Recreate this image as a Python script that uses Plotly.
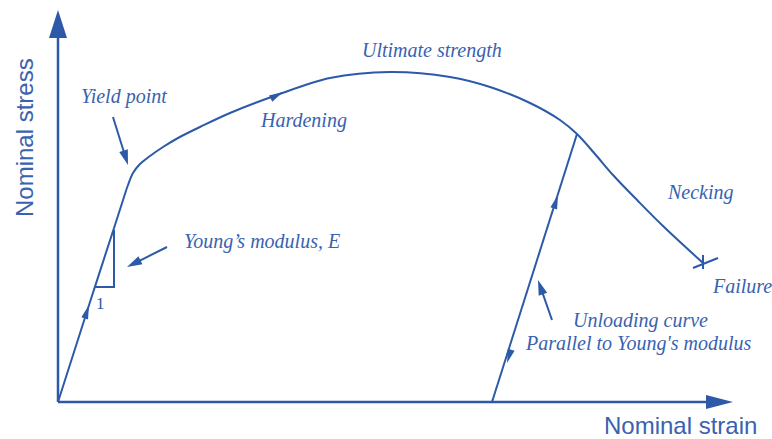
import numpy as np
import plotly.graph_objects as go

BLUE = "#2d5aa8"
TXT = "#3962b0"

# Main stress-strain curve (schematic units: strain, stress)
curve_strain = [0, 32, 57, 66, 70, 75, 82, 92, 105, 120, 142, 172, 219, 272, 332, 392, 432, 472, 502, 519, 537, 555, 580, 605, 645]
curve_stress = [0, 100, 177, 205, 217, 229, 238, 246, 255, 264, 275, 289, 307, 324, 330, 325, 315, 299, 282, 268, 248, 227, 201, 176, 139]

# Unloading line
unload_strain = [519, 434]
unload_stress = [268, 0]

# Young's modulus triangle
tri_strain = [37, 56, 56]
tri_stress = [115, 115, 172]

# Failure cross
fail_v_strain = [645, 645]
fail_v_stress = [147, 133]
fail_h_strain = [635, 660]
fail_h_stress = [134, 144]

# Axes extents
axis_x_end = 675
axis_y_end = 392

# Labels: (text, strain, stress, xanchor)
labels = [
    ("Yield point", 66, 306, "center"),
    ("Young’s modulus, E", 124, 161, "left"),
    ("Hardening", 245, 282, "center"),
    ("Ultimate strength", 374, 352, "center"),
    ("Necking", 642, 210, "center"),
    ("Failure", 684, 116, "center"),
    ("Unloading curve", 582, 82, "center"),
    ("Parallel to Young's modulus", 580, 59, "center"),
]

# Pointer arrows: (tail_x, tail_y, tip_x, tip_y)
pointers = [
    (55, 285, 70, 237),
    (109, 155, 69, 135),
    (494, 82, 480, 122),
]

# In-line direction arrowheads: (tip_x, tip_y, dir_x, dir_y)
heads = [
    (31, 97, 65, 202),
    (225, 310, 15, 8),
    (500, 207, 85, 268),
    (449, 39, -85, -268),
]

W, H = 772, 439
X0, Y0 = 58, 402  # pixel position of origin


def tri_path(tx, ty, dx, dy, length, width):
    d = np.array([dx, dy], float)
    d /= np.linalg.norm(d)
    n = np.array([-d[1], d[0]])
    tip = np.array([tx, ty], float)
    base = tip - d * length
    p1 = base + n * width / 2
    p2 = base - n * width / 2
    return f"M{tip[0]},{tip[1]} L{p1[0]},{p1[1]} L{p2[0]},{p2[1]} Z"


fig = go.Figure()
line = dict(color=BLUE, width=2)
fig.add_trace(go.Scatter(x=curve_strain, y=curve_stress, mode="lines",
                         line=dict(color=BLUE, width=2, shape="spline", smoothing=1.0)))
fig.add_trace(go.Scatter(x=unload_strain, y=unload_stress, mode="lines", line=line))
fig.add_trace(go.Scatter(x=tri_strain, y=tri_stress, mode="lines", line=line))
fig.add_trace(go.Scatter(x=fail_v_strain, y=fail_v_stress, mode="lines", line=line))
fig.add_trace(go.Scatter(x=fail_h_strain, y=fail_h_stress, mode="lines", line=line))

shapes = []
shapes.append(dict(type="line", x0=0, y0=0, x1=axis_x_end - 26, y1=0, line=dict(color=BLUE, width=2.5)))
shapes.append(dict(type="line", x0=0, y0=0, x1=0, y1=axis_y_end - 26, line=dict(color=BLUE, width=2.5)))
shapes.append(dict(type="path", path=tri_path(axis_x_end, 0, 1, 0, 27, 14), fillcolor=BLUE, line=dict(width=0)))
shapes.append(dict(type="path", path=tri_path(0, axis_y_end, 0, 1, 28, 18), fillcolor=BLUE, line=dict(width=0)))

for (x0, y0, x1, y1) in pointers:
    d = np.array([x1 - x0, y1 - y0], float)
    d /= np.linalg.norm(d)
    ex, ey = np.array([x1, y1]) - d * 10
    shapes.append(dict(type="line", x0=x0, y0=y0, x1=ex, y1=ey, line=dict(color=BLUE, width=2)))
    shapes.append(dict(type="path", path=tri_path(x1, y1, x1 - x0, y1 - y0, 15, 9), fillcolor=BLUE, line=dict(width=0)))

for (tx, ty, dx, dy) in heads:
    shapes.append(dict(type="path", path=tri_path(tx, ty, dx, dy, 14, 7), fillcolor=BLUE, line=dict(width=0)))

annotations = []
for (t, x, y, xa) in labels:
    annotations.append(dict(text=f"<i>{t}</i>", x=x, y=y, xanchor=xa, yanchor="middle", showarrow=False,
                            font=dict(family="Liberation Serif", size=20, color=TXT)))
annotations.append(dict(text="1", x=42, y=99, showarrow=False,
                        font=dict(family="Liberation Serif", size=17, color=BLUE)))
annotations.append(dict(text="Nominal strain", x=622, y=-23, showarrow=False,
                        font=dict(family="Liberation Sans", size=24, color=TXT)))
annotations.append(dict(text="Nominal stress", x=-34, y=264, showarrow=False, textangle=-90,
                        font=dict(family="Liberation Sans", size=24, color=TXT)))

fig.update_layout(
    width=W, height=H,
    margin=dict(l=0, r=0, t=0, b=0),
    plot_bgcolor="white", paper_bgcolor="white",
    showlegend=False,
    shapes=shapes, annotations=annotations,
    xaxis=dict(range=[-X0, W - X0], visible=False, fixedrange=True),
    yaxis=dict(range=[Y0 - H, Y0], visible=False, fixedrange=True),
)

fig.write_html(
    "out.html",
    config={"displayModeBar": False},
    post_script="document.body.style.margin='0';document.body.style.overflow='hidden';",
)
